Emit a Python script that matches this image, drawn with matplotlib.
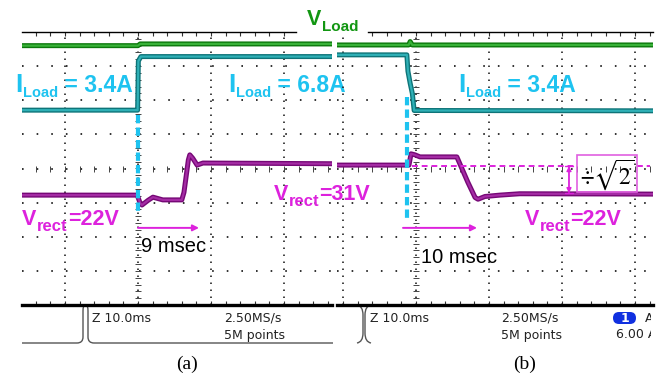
import numpy as np
import matplotlib
matplotlib.use("Agg")
import matplotlib.pyplot as plt
from matplotlib.path import Path
from matplotlib.patches import PathPatch, Rectangle, FancyBboxPatch

# ---- scope data (time in ms, vertical in screen divisions) ----
# panel (a): load step 3.4A -> 6.8A
t_a_vload = [-15.9, 0.0, 0.3, 26.6]
v_a_vload = [3.60, 3.60, 3.65, 3.65]
t_a_iload = [-15.9, -0.05, 0.05, 0.4, 26.6]
v_a_iload = [1.71, 1.71, 3.15, 3.28, 3.28]
t_a_vrect = [-15.9, -0.1, 0.3, 0.55, 1.4, 2.05, 3.4, 4.5, 6.0, 6.3, 6.9, 7.1, 7.5, 8.1, 8.9, 26.6]
v_a_vrect = [-0.78, -0.78, -1.02, -1.07, -0.93, -0.84, -0.92, -0.92, -0.92, -0.7, 0.25, 0.40, 0.30, 0.10, 0.16, 0.14]

# panel (b): load step 6.8A -> 3.4A
t_b_vload = [-10.8, -1.0, -0.8, -0.5, 32.5]
v_b_vload = [3.62, 3.62, 3.72, 3.62, 3.62]
t_b_iload = [-10.8, -1.25, -1.1, -0.8, -0.5, -0.25, 32.5]
v_b_iload = [3.33, 3.33, 2.85, 2.5, 2.2, 1.70, 1.69]
t_b_vrect = [-10.8, -0.96, -0.68, -0.14, 0.55, 5.6, 7.1, 8.1, 8.5, 9.45, 11.5, 14.2, 32.5]
v_b_vrect = [0.10, 0.10, 0.43, 0.40, 0.34, 0.34, -0.40, -0.85, -0.90, -0.82, -0.78, -0.74, -0.75]

step_a = 0.0      # load step instant (ms)
step_b = -1.23
arrow_a = (0.0, 8.36)   # 9 msec / 10 msec markers
arrow_b = (-1.78, 8.36)

GREEN_D, GREEN_L = '#0c780c', '#38b238'
TEAL_D, TEAL_L = '#0e7478', '#2fb0b6'
PURP_D, PURP_L = '#760876', '#a42ca4'
CYAN = '#1ec3f0'
MAG = '#dd22dd'
FONT = 'Liberation Sans'

W, H = 671, 377
fig = plt.figure(figsize=(W / 100, H / 100), dpi=100)


def px_axes(x0, x1, y0, y1):
    return fig.add_axes([x0 / W, 1 - y1 / H, (x1 - x0) / W, (y1 - y0) / H])


ov = fig.add_axes([0, 0, 1, 1])
ov.set_xlim(0, W)
ov.set_ylim(H, 0)
ov.axis('off')

axa = px_axes(22, 332, 32, 305)
axb = px_axes(337, 653, 32, 305)


def setup_panel(ax, t0, t1, top_from, top_to):
    ax.set_xlim(t0, t1)
    ax.set_ylim(-4, 4)
    ax.set_facecolor('none')
    ax.spines['left'].set_visible(False)
    ax.spines['right'].set_visible(False)
    ax.spines['top'].set_bounds(top_from, top_to)
    ax.spines['top'].set_linewidth(1.0)
    ax.spines['bottom'].set_linewidth(2.4)
    ax.set_xticks([])
    ax.set_yticks([])
    for gx in np.arange(-10, t1, 10):
        ax.axvline(gx, color='#222', lw=1.2, ls=(0, (0.9, 3.3)), zorder=1)
    for gy in np.arange(-3, 4):
        ax.axhline(gy, color='#222', lw=1.3, ls=(0, (0.9, 7.2)), zorder=1)
    mt = np.arange(np.ceil(t0 / 2) * 2, t1, 2)
    top = mt[(mt >= top_from) & (mt <= top_to)]
    ax.plot(top, np.full(len(top), 4.0), ls='none', marker=3, ms=3, mew=0.8, color='#333', clip_on=False)
    ax.plot(mt, np.full(len(mt), -4.0), ls='none', marker=2, ms=3, mew=0.8, color='#333', clip_on=False)
    ax.plot(mt, np.zeros(len(mt)), ls='none', marker='|', ms=4, mew=0.7, color='#444')
    yy = np.arange(-4, 4.01, 0.2)
    ax.plot(np.zeros(len(yy)), yy, ls='none', marker='_', ms=4, mew=0.7, color='#444')


def trace(ax, t, v, dark, light):
    ax.plot(t, v, color=dark, lw=3.6, solid_joinstyle='round', zorder=3)
    ax.plot(t, v, color=light, lw=1.6, solid_joinstyle='round', zorder=3)


def sub_label(ax, x, y, main, sub, rest, color, s_main, s_sub, s_rest, drop):
    kw = dict(color=color, weight='bold', family=FONT, ha='left', zorder=6)
    t1 = ax.text(x, y, main, fontsize=s_main, va='baseline', **kw)
    t2 = ax.annotate(sub, xy=(1, 0), xycoords=t1, xytext=(0.6, -drop),
                     textcoords='offset points', fontsize=s_sub, va='bottom', **kw)
    ax.annotate(rest, xy=(1, 0), xycoords=(t2, t1), xytext=(0, 0),
                textcoords='offset points', fontsize=s_rest, va='bottom', **kw)


setup_panel(axa, -15.89, 26.58, -15.89, 21.64)
setup_panel(axb, -10.82, 32.47, -6.58, 32.47)

trace(axa, t_a_vload, v_a_vload, GREEN_D, GREEN_L)
trace(axa, t_a_iload, v_a_iload, TEAL_D, TEAL_L)
trace(axa, t_a_vrect, v_a_vrect, PURP_D, PURP_L)
trace(axb, t_b_vload, v_b_vload, GREEN_D, GREEN_L)
trace(axb, t_b_iload, v_b_iload, TEAL_D, TEAL_L)
trace(axb, t_b_vrect, v_b_vrect, PURP_D, PURP_L)

# load-step markers
axa.plot([step_a, step_a], [1.57, -1.28], color=CYAN, lw=3, ls=(0, (2, 1)), zorder=4)
axb.plot([step_b, step_b], [2.10, -1.45], color=CYAN, lw=3, ls=(0, (2, 1)), zorder=4)

# settling-time arrows
arr = dict(arrowstyle='-|>', color=MAG, lw=1.4, mutation_scale=9, shrinkA=0, shrinkB=0)
axa.annotate('', xy=(arrow_a[1], -1.74), xytext=(arrow_a[0], -1.74), arrowprops=arr)
axb.annotate('', xy=(arrow_b[1], -1.74), xytext=(arrow_b[0], -1.74), arrowprops=arr)
axa.text(0.4, -2.30, '9 msec', fontsize=14.5, family=FONT, va='center', ha='left')
axb.text(0.7, -2.60, '10 msec', fontsize=14.5, family=FONT, va='center', ha='left')

# divide-by-root-two annotation in (b)
axb.plot([-0.55, 22.05], [0.07, 0.07], color=MAG, lw=1.4, ls=(0, (3, 2)), zorder=4)
axb.plot([30.3, 32.05], [0.07, 0.07], color=MAG, lw=1.4, ls=(0, (3, 2)), zorder=4)
axb.add_patch(Rectangle((22.05, -0.69), 8.25, 1.09, fill=False, ec='#e060e0', lw=1.2, zorder=4))
axb.annotate('', xy=(20.96, -0.72), xytext=(20.96, 0.07),
             arrowprops=dict(arrowstyle='|-|,widthA=0.3,widthB=0.3', color=MAG, lw=1.0, shrinkA=0, shrinkB=0))
axb.annotate('', xy=(20.96, -0.72), xytext=(20.96, 0.07),
             arrowprops=dict(arrowstyle='<|-|>', color=MAG, lw=1.0, mutation_scale=7, shrinkA=0, shrinkB=0))
axb.text(26.2, -0.17, r'$\div\sqrt{2}$', math_fontfamily='stix', fontsize=17, ha='center', va='center', zorder=5)

# labels
sub_label(axa, -16.85, 2.24, 'I', 'Load', ' = 3.4A', CYAN, 19, 10.5, 16.5, 1.8)
sub_label(axa, 12.33, 2.24, 'I', 'Load', ' = 6.8A', CYAN, 19, 10.5, 16.5, 1.8)
sub_label(axb, 5.75, 2.24, 'I', 'Load', ' = 3.4A', CYAN, 19, 10.5, 16.5, 1.8)
sub_label(axa, 23.15, 4.21, 'V', 'Load', '', '#129612', 15.5, 11, 11, 3.0)
sub_label(axa, -15.9, -1.66, 'V', 'rect', '=22V', MAG, 15.5, 12, 15.5, 3.0)
sub_label(axa, 18.6, -0.92, 'V', 'rect', '=31V', MAG, 15.5, 12, 15.5, 3.0)
sub_label(axb, 14.9, -1.66, 'V', 'rect', '=22V', MAG, 15.5, 12, 15.5, 3.0)

# scope info bar
def outline(pts, codes):
    ov.add_patch(PathPatch(Path(pts, codes), fill=False, ec='#555', lw=1.0))

M, L, C = Path.MOVETO, Path.LINETO, Path.CURVE3
outline([(22, 343), (77, 343), (83, 343), (83, 337), (83, 311), (83, 305), (85, 305)], [M, L, C, C, L, C, C])
outline([(86, 305), (88, 305), (88, 311), (88, 337), (88, 343), (94, 343), (333, 343)], [M, C, C, L, C, C, L])
outline([(357, 305), (363, 306), (363, 315), (363, 333), (363, 342), (357, 343)], [M, C, C, L, C, C])
outline([(371, 305), (365, 306), (365, 315), (365, 333), (365, 342), (371, 343)], [M, C, C, L, C, C])

info = dict(fontsize=9, family='DejaVu Sans', va='center', ha='left', color='#222')
ov.text(92, 318, 'Z 10.0ms', **info)
ov.text(224, 318, '2.50MS/s', **info)
ov.text(224, 335, '5M points', **info)
ov.text(370, 318, 'Z 10.0ms', **info)
ov.text(501, 318, '2.50MS/s', **info)
ov.text(501, 335, '5M points', **info)
ov.text(616, 335, '6.00 A', **info)
ov.text(645, 318, 'A', **info)
ov.add_patch(FancyBboxPatch((613, 312), 23, 12, boxstyle='round,pad=0,rounding_size=6', fc='#1030e0', ec='none'))
ov.text(624.5, 318, '1', fontsize=9, family='DejaVu Sans', color='white', ha='center', va='center', weight='bold')
ov.add_patch(Rectangle((651, 306), 22, 45, fc='white', ec='none', zorder=10))

ov.text(187, 364, '(a)', fontsize=14, family='Liberation Serif', ha='center', va='center')
ov.text(525, 364, '(b)', fontsize=14, family='Liberation Serif', ha='center', va='center')

fig.savefig('out.png', dpi=100)
